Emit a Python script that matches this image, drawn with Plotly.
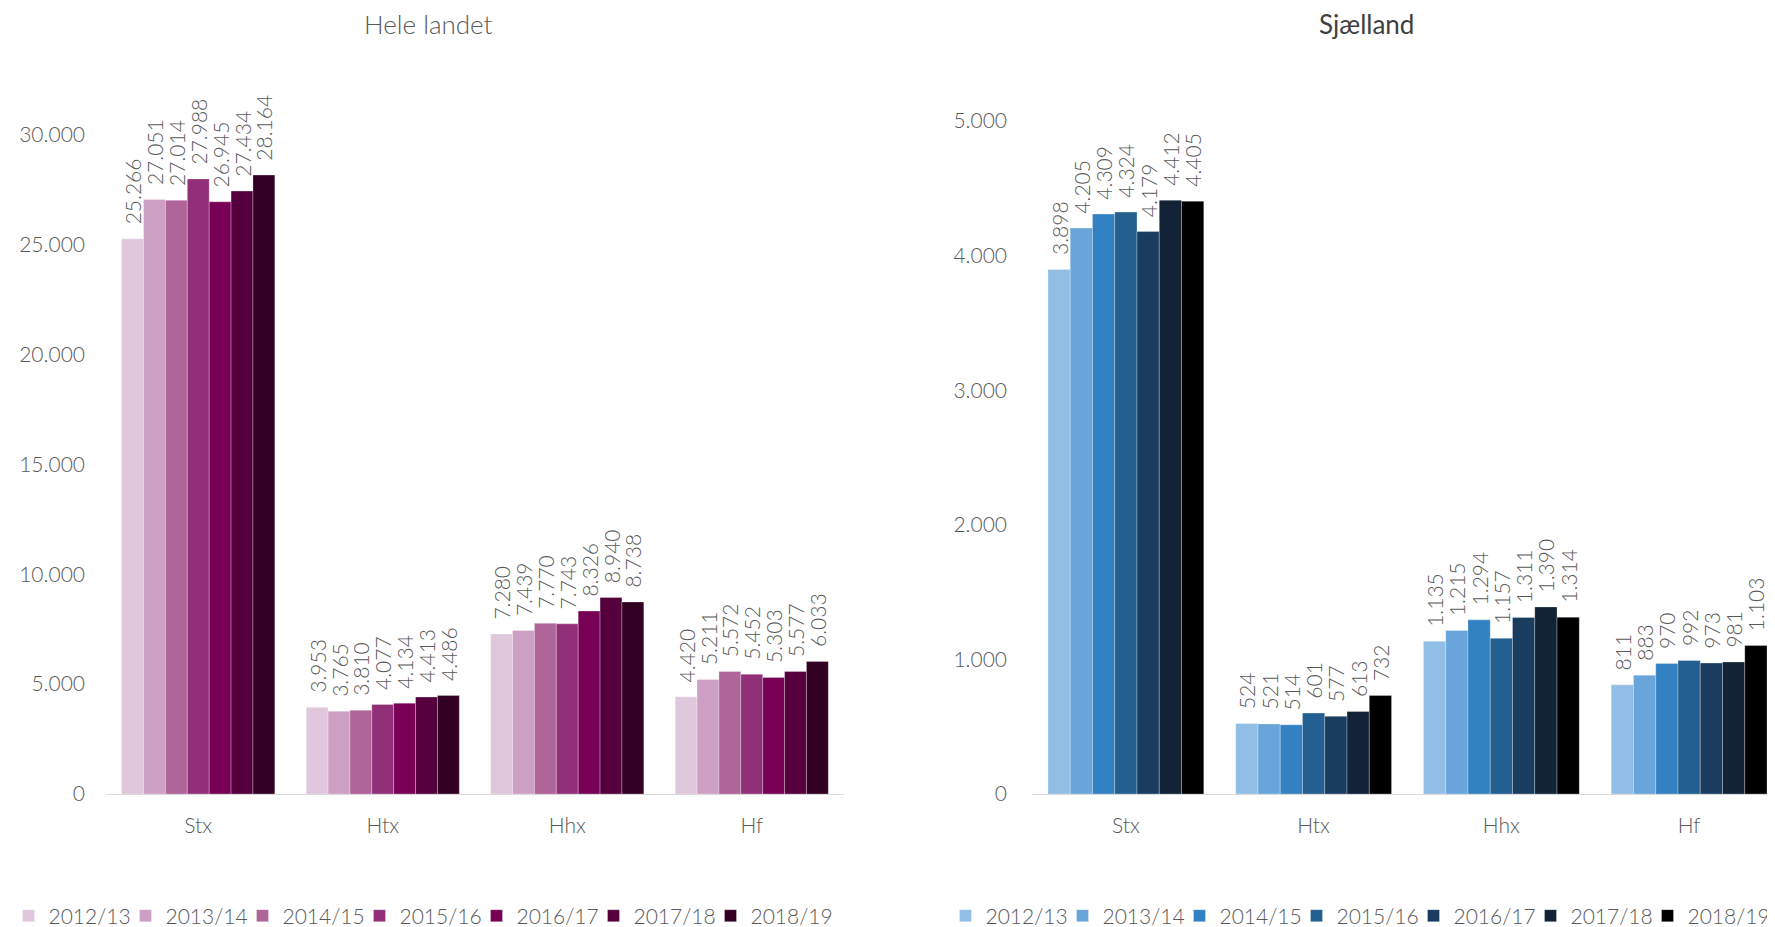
import plotly.graph_objects as go

categories = ["Stx", "Htx", "Hhx", "Hf"]
years = ["2012/13", "2013/14", "2014/15", "2015/16", "2016/17", "2017/18", "2018/19"]

hele_2012 = [25266, 3953, 7280, 4420]
hele_2013 = [27051, 3765, 7439, 5211]
hele_2014 = [27014, 3810, 7770, 5572]
hele_2015 = [27988, 4077, 7743, 5452]
hele_2016 = [26945, 4134, 8326, 5303]
hele_2017 = [27434, 4413, 8940, 5577]
hele_2018 = [28164, 4486, 8738, 6033]

sj_2012 = [3898, 524, 1135, 811]
sj_2013 = [4205, 521, 1215, 883]
sj_2014 = [4309, 514, 1294, 970]
sj_2015 = [4324, 601, 1157, 992]
sj_2016 = [4179, 577, 1311, 973]
sj_2017 = [4412, 613, 1390, 981]
sj_2018 = [4405, 732, 1314, 1103]

hele = [hele_2012, hele_2013, hele_2014, hele_2015, hele_2016, hele_2017, hele_2018]
sj = [sj_2012, sj_2013, sj_2014, sj_2015, sj_2016, sj_2017, sj_2018]

purple = ["#E0C8DC", "#CDA0C3", "#AF659A", "#913078", "#780055", "#55003C", "#320023"]
blue = ["#91BEE4", "#69A5DA", "#3282C3", "#235F91", "#193C5F", "#122337", "#000000"]

FONT = "Lato"
GREY = "#595959"
# the page body has an 8px margin: figure is placed at (8, 8) in the window
OFF = 8
W, H = 1775 - OFF, 927 - OFF
NB = "\u00a0" * 2  # gap between bar top and its rotated label

label_font = dict(family=FONT, size=21, color=GREY, weight=300)

fig = go.Figure()
for i, y in enumerate(years):
    fig.add_trace(go.Bar(
        x=categories, y=hele[i], name=y,
        marker=dict(color=purple[i], line=dict(width=0.8, color="rgba(255,255,255,0.35)")),
        xaxis="x", yaxis="y", legend="legend",
        texttemplate=NB + "%{y:,d}", textposition="outside", textangle=-90, cliponaxis=False,
        constraintext="none", textfont=label_font,
    ))
for i, y in enumerate(years):
    fig.add_trace(go.Bar(
        x=categories, y=sj[i], name=y,
        marker=dict(color=blue[i], line=dict(width=0.8, color="rgba(255,255,255,0.35)")),
        xaxis="x2", yaxis="y2", legend="legend2",
        texttemplate=NB + "%{y:,d}", textposition="outside", textangle=-90, cliponaxis=False,
        constraintext="none", textfont=label_font,
    ))
# invisible spacer entries so the last legend label is not clipped
for ax, ay, lg in (("x", "y", "legend"), ("x2", "y2", "legend2")):
    fig.add_trace(go.Scatter(
        x=[None], y=[None], mode="markers", name=" ",
        marker=dict(color="rgba(0,0,0,0)", size=1),
        xaxis=ax, yaxis=ay, legend=lg, hoverinfo="skip",
    ))

def fx(p):
    return (p - OFF) / W

def fy(p):
    return (H - (p - OFF)) / H

axis_font = dict(family=FONT, size=21, color=GREY, weight=300)
common_x = dict(showline=True, linecolor="#D9D9D9", linewidth=1.3, showgrid=False, ticks="",
                tickfont=axis_font, ticklabelstandoff=13, fixedrange=True)
common_y = dict(showline=False, showgrid=False, zeroline=False, ticks="", tickfont=axis_font,
                tickformat=",d", fixedrange=True)
legend_font = dict(family=FONT, size=21, color=GREY, weight=300)

fig.update_layout(
    width=W, height=H,
    margin=dict(l=0, r=0, t=0, b=0, autoexpand=False),
    paper_bgcolor="white", plot_bgcolor="white",
    separators=",.",
    barmode="group", bargap=0.17, bargroupgap=0,
    font=dict(family=FONT, color=GREY),
    xaxis=dict(domain=[fx(106), fx(844)], anchor="y", range=[-0.5, 3.5], **common_x),
    yaxis=dict(domain=[fy(794), fy(134.7)], anchor="x", range=[0, 30000], dtick=5000,
               ticklabelstandoff=20, **common_y),
    xaxis2=dict(domain=[fx(1032), 1.0], anchor="y2", range=[-0.5, 3.5 - 8 / 187.7], **common_x),
    yaxis2=dict(domain=[fy(794), fy(121.1)], anchor="x2", range=[0, 5000], dtick=1000,
                ticklabelstandoff=24, **common_y),
    legend=dict(orientation="h", x=fx(8.5), xanchor="left", y=fy(916), yanchor="middle",
                font=legend_font, entrywidth=72, itemwidth=30, bgcolor="rgba(0,0,0,0)"),
    legend2=dict(orientation="h", x=fx(945.5), xanchor="left", y=fy(916), yanchor="middle",
                 font=legend_font, entrywidth=72, itemwidth=30, bgcolor="rgba(0,0,0,0)"),
    annotations=[
        dict(text="Hele landet", x=fx(428), y=fy(24), xref="paper", yref="paper",
             xanchor="center", yanchor="middle", showarrow=False,
             font=dict(family=FONT, size=26, color=GREY, weight=300)),
        dict(text="Sjælland", x=fx(1366), y=fy(24), xref="paper", yref="paper",
             xanchor="center", yanchor="middle", showarrow=False,
             font=dict(family=FONT, size=26, color="#404040", weight=400)),
    ],
)

fig.write_html("out.html")
